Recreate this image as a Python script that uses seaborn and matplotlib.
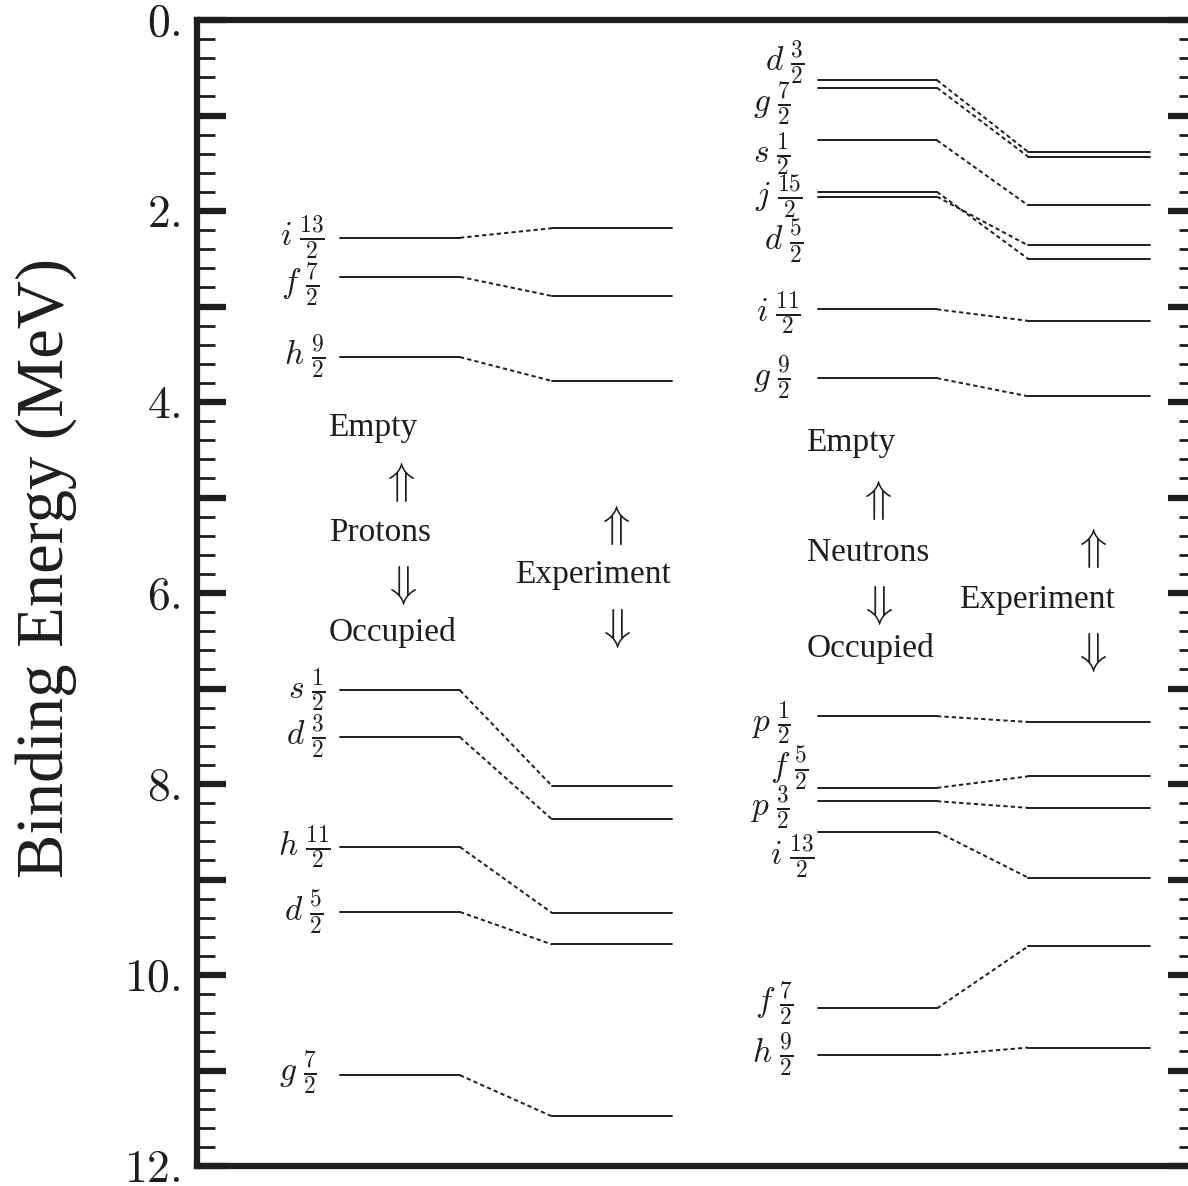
import matplotlib
matplotlib.use("Agg")
import matplotlib.pyplot as plt
import seaborn as sns
import pandas as pd
import numpy as np

# single-particle levels (binding energy, MeV)
proton_orbit = ["i", "f", "h", "s", "d", "h", "d", "g"]
proton_2j = [13, 7, 9, 1, 3, 11, 5, 7]
proton_theory = [2.28, 2.69, 3.53, 7.02, 7.51, 8.66, 9.34, 11.05]
proton_exp = [2.18, 2.89, 3.78, 8.02, 8.37, 9.35, 9.68, 11.48]

neutron_orbit = ["d", "g", "s", "j", "d", "i", "g", "p", "f", "p", "i", "f", "h"]
neutron_2j = [3, 7, 1, 15, 5, 11, 9, 1, 5, 3, 13, 7, 9]
neutron_theory = [0.63, 0.71, 1.26, 1.80, 1.85, 3.03, 3.75, 7.29, 8.04, 8.18, 8.50, 10.35, 10.84]
neutron_exp = [1.38, 1.43, 1.94, 2.50, 2.36, 3.15, 3.94, 7.35, 7.92, 8.25, 8.98, 9.70, 10.76]

yticks_labelled = [0, 2, 4, 6, 8, 10, 12]

# layout: column extents (x data units) and label nudges (dx, dE)
cols = {"P": (143, 263, 355, 475, 128), "N": (621, 740, 831, 953, 604)}
nudge_N = {0: (3, -0.18), 1: (-10, 0.17), 2: (-11, 0.14), 3: (2, 0.05), 4: (2, 0.46),
           5: (0, 0.04), 6: (-10, 0.0), 7: (-10, 0.07), 8: (7, -0.21), 9: (-11, 0.07),
           10: (14, 0.26), 11: (-8, -0.05), 12: (-8, 0.0)}
nudge_P = {1: (-6, 0.08), 5: (6, 0.0), 6: (-2, 0.0), 7: (-8, -0.03)}

sns.set_theme(style="ticks")
plt.rcParams["font.family"] = ["Liberation Serif", "DejaVu Serif"]
plt.rcParams["mathtext.fontset"] = "cm"

fig = plt.figure(figsize=(11.88, 11.86), dpi=100)
ax = fig.add_axes([197 / 1188, 1 - 1166 / 1186, 1000 / 1188, 1146 / 1186])

ink = "#1e1e1e"
rows_solid, rows_dash = [], []
for key, orb, j2, th, ex in [("P", proton_orbit, proton_2j, proton_theory, proton_exp),
                             ("N", neutron_orbit, neutron_2j, neutron_theory, neutron_exp)]:
    x0, x1, x2, x3, xl = cols[key]
    for i in range(len(orb)):
        name = f"{key}{i}"
        rows_solid += [(name + "t", x0, th[i]), (name + "t", x1, th[i]),
                       (name + "e", x2, ex[i]), (name + "e", x3, ex[i])]
        rows_dash += [(name, x1, th[i]), (name, x2, ex[i])]
        dx, dy = (nudge_P if key == "P" else nudge_N).get(i, (0, 0))
        ax.text(xl + dx, th[i] + dy, r"$%s\;\frac{%d}{2}$" % (orb[i], j2[i]),
                ha="right", va="center", fontsize=24, color=ink)

solid = pd.DataFrame(rows_solid, columns=["level", "x", "E"])
dash = pd.DataFrame(rows_dash, columns=["level", "x", "E"])
sns.lineplot(data=solid, x="x", y="E", units="level", estimator=None, sort=False,
             color=ink, lw=1.4, ax=ax)
sns.lineplot(data=dash, x="x", y="E", units="level", estimator=None, sort=False,
             color=ink, lw=1.4, ax=ax, linestyle=(0, (2.2, 1.6)))

# annotations
txt = dict(ha="center", va="center", fontsize=24, color=ink)
arr = dict(ha="center", va="center", fontsize=32, color=ink)
ax.text(176, 4.27, "Empty", **txt)
ax.text(201, 4.84, r"$\Uparrow$", **arr)
ax.text(183, 5.37, "Protons", **txt)
ax.text(203, 5.92, r"$\Downarrow$", **arr)
ax.text(196, 6.41, "Occupied", **txt)
ax.text(416, 5.29, r"$\Uparrow$", **arr)
ax.text(396, 5.81, "Experiment", **txt)
ax.text(417, 6.37, r"$\Downarrow$", **arr)
ax.text(654, 4.43, "Empty", **txt)
ax.text(678, 5.03, r"$\Uparrow$", **arr)
ax.text(671, 5.58, "Neutrons", **txt)
ax.text(679, 6.13, r"$\Downarrow$", **arr)
ax.text(673, 6.58, "Occupied", **txt)
ax.text(893, 5.53, r"$\Uparrow$", **arr)
ax.text(840, 6.07, "Experiment", **txt)
ax.text(893, 6.62, r"$\Downarrow$", **arr)

ax.set_xlim(0, 1000)
ax.set_ylim(12, 0)
ax.set_xticks([])
ax.set_yticks(list(range(0, 13)))
ax.set_yticklabels([r"$%d.$" % v if v in yticks_labelled else "" for v in range(0, 13)])
ax.set_yticks(np.arange(0, 12.01, 0.2), minor=True)
ax.tick_params(axis="y", which="major", direction="in", length=21, width=4.5,
               left=True, right=True, labelsize=33, pad=12, color=ink, labelcolor=ink)
ax.tick_params(axis="y", which="minor", direction="in", length=13, width=2,
               left=True, right=True, color=ink)
for s in ax.spines.values():
    s.set_linewidth(4.5)
    s.set_color(ink)
ax.spines["right"].set_visible(False)
ax.set_xlabel("")
ax.set_ylabel("Binding Energy (MeV)", fontsize=48, color=ink)
ax.yaxis.set_label_coords(-0.12, 0.522)
if ax.get_legend():
    ax.get_legend().remove()

fig.savefig("out.png", dpi=100)
